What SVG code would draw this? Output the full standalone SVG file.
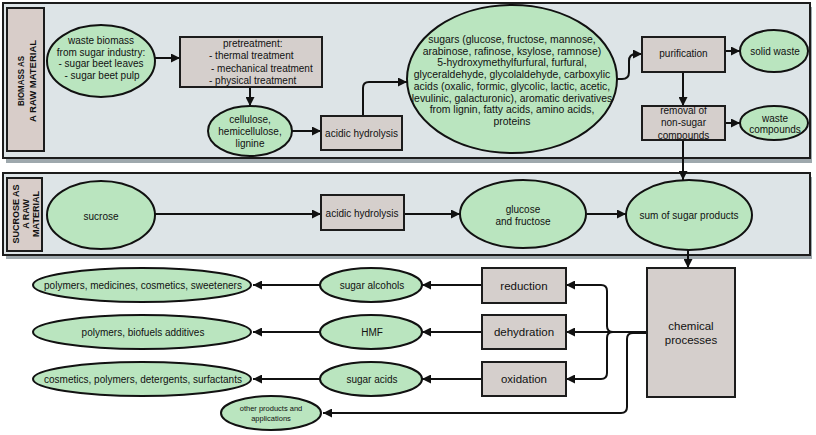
<svg xmlns="http://www.w3.org/2000/svg" width="816" height="435" viewBox="0 0 816 435">
<defs>
<marker id="ah" markerUnits="userSpaceOnUse" markerWidth="9" markerHeight="9" refX="9" refY="4.5" orient="auto">
<path d="M0,0 L9,4.5 L0,9 z" fill="#111"/>
</marker>
<style>
.panel{fill:#dde4e7;stroke:#1c1c1c;stroke-width:2}
.shadow{fill:#9ea8ad}
.lbl{fill:#d8cdc9;stroke:#1c1c1c;stroke-width:2}
.box{fill:#d5cfcc;stroke:#1c1c1c;stroke-width:2}
.ell{fill:#bae5bf;stroke:#111;stroke-width:2}
text{font-family:"Liberation Sans",Arial,sans-serif;fill:#111;text-anchor:middle}
.t10{font-size:10px}
.t105{font-size:10.4px}
.t115{font-size:11.5px}
.t75{font-size:7.5px}
.lt{font-size:9px;font-weight:bold}
.c{fill:none;stroke:#111;stroke-width:2}
.a{marker-end:url(#ah)}
</style>
</defs>
<rect x="0" y="0" width="816" height="435" fill="#ffffff"/>

<g id="panel-biomass">
<rect class="shadow" x="6" y="7" width="806" height="156"/>
<rect class="panel" x="3" y="3" width="807" height="155"/>
<rect class="lbl" x="7" y="8" width="37" height="143"/>
<text class="lt" transform="translate(24,81) rotate(-90)" textLength="50" lengthAdjust="spacingAndGlyphs">BIOMASS AS</text>
<text class="lt" transform="translate(36,81) rotate(-90)" textLength="82" lengthAdjust="spacingAndGlyphs">A RAW MATERIAL</text>
</g>

<g id="panel-sucrose">
<rect class="shadow" x="6" y="177" width="806" height="82"/>
<rect class="panel" x="3" y="173" width="807" height="82"/>
<rect class="lbl" x="7" y="178" width="35" height="73"/>
<text class="lt" transform="translate(19,214) rotate(-90)">SUCROSE AS</text>
<text class="lt" transform="translate(29,214) rotate(-90)">A RAW</text>
<text class="lt" transform="translate(39,214) rotate(-90)">MATERIAL</text>
</g>

<g id="connectors">
<path class="c a" d="M155,58 H180"/>
<path class="c a" d="M250,87 V106"/>
<path class="c a" d="M292,131 H321"/>
<path class="c a" d="M363,116 V88 Q363,82 369,82 H407"/>
<path class="c a" d="M617,79 H622 Q629,79 629,72 V61 Q629,54 636,54 H642"/>
<path class="c a" d="M725,51 H740"/>
<path class="c a" d="M683,72 V106"/>
<path class="c a" d="M725,123 H740"/>
<path class="c a" d="M683,140 V180"/>
<path class="c a" d="M155,214 H321"/>
<path class="c a" d="M404,214 H460"/>
<path class="c a" d="M587,214 H626"/>
<path class="c a" d="M688,250 V268"/>
<path class="c a" d="M647,332 H566"/>
<path class="c a" d="M613,332 Q607,332 607,326 V291 Q607,285 601,285 H566"/>
<path class="c a" d="M613,332 Q607,332 607,338 V373 Q607,379 601,379 H566"/>
<path class="c a" d="M647,333 H633 Q627,333 627,339 V407 Q627,413 621,413 H323"/>
<path class="c a" d="M482,285 H422"/>
<path class="c a" d="M482,332 H422"/>
<path class="c a" d="M482,379 H422"/>
<path class="c a" d="M320,285 H253"/>
<path class="c a" d="M320,332 H253"/>
<path class="c a" d="M320,379 H253"/>
</g>

<g id="waste-biomass">
<ellipse class="ell" cx="101" cy="61" rx="54" ry="36"/>
<text class="t10" x="101" y="43.5">waste biomass</text>
<text class="t10" x="101" y="55.5">from sugar industry:</text>
<text class="t10" x="101" y="67">- sugar beet leaves</text>
<text class="t10" x="102" y="79">- sugar beet pulp</text>
</g>

<g id="pretreatment">
<rect class="box" x="180" y="37" width="142" height="50"/>
<text class="t10" x="223" y="46.5" style="text-anchor:start">pretreatment:</text>
<text class="t10" x="209" y="59" style="text-anchor:start">- thermal treatment</text>
<text class="t10" x="211" y="71.5" style="text-anchor:start">- mechanical treatment</text>
<text class="t10" x="209" y="83.5" style="text-anchor:start">- physical treatment</text>
</g>

<g id="cellulose">
<ellipse class="ell" cx="250" cy="131" rx="42" ry="25"/>
<text class="t10" x="250" y="122.5">cellulose,</text>
<text class="t10" x="250" y="134.5">hemicellulose,</text>
<text class="t10" x="250" y="146.5">lignine</text>
</g>

<g id="acidic-hydrolysis-1">
<rect class="box" x="321" y="116" width="81" height="34"/>
<text class="t10" x="361.5" y="136.5">acidic hydrolysis</text>
</g>

<g id="sugars">
<ellipse class="ell" cx="512" cy="79" rx="105" ry="74"/>
<text class="t105" x="512" y="43">sugars (glucose, fructose, mannose,</text>
<text class="t105" x="512" y="54.7">arabinose, rafinose, ksylose, ramnose)</text>
<text class="t105" x="512" y="66.4">5-hydroxymethylfurfural, furfural,</text>
<text class="t105" x="512" y="78.1">glyceraldehyde, glycolaldehyde, carboxylic</text>
<text class="t105" x="512" y="89.8">acids (oxalic, formic, glycolic, lactic, acetic,</text>
<text class="t105" x="512" y="101.5">levulinic, galacturonic), aromatic derivatives</text>
<text class="t105" x="512" y="113.2">from lignin,  fatty acids, amino acids,</text>
<text class="t105" x="512" y="124.9">proteins</text>
</g>

<g id="purification">
<rect class="box" x="642" y="37" width="83" height="35"/>
<text class="t10" x="683.5" y="56.5">purification</text>
</g>

<g id="solid-waste">
<ellipse class="ell" cx="774" cy="51" rx="34" ry="21"/>
<text class="t10" x="775" y="54.5">solid waste</text>
</g>

<g id="removal">
<rect class="box" x="642" y="106" width="83" height="34"/>
<text class="t10" x="683.5" y="113.5">removal of</text>
<text class="t10" x="683.5" y="126">non-sugar</text>
<text class="t10" x="683.5" y="138.5">compounds</text>
</g>

<g id="waste-compounds">
<ellipse class="ell" cx="774" cy="123" rx="34" ry="17"/>
<text class="t10" x="775" y="121.5">waste</text>
<text class="t10" x="775" y="133">compounds</text>
</g>

<g id="sucrose">
<ellipse class="ell" cx="101" cy="215" rx="54" ry="34"/>
<text class="t10" x="101" y="220">sucrose</text>
</g>

<g id="acidic-hydrolysis-2">
<rect class="box" x="321" y="195" width="83" height="35"/>
<text class="t10" x="362" y="216.5">acidic hydrolysis</text>
</g>

<g id="glucose-fructose">
<ellipse class="ell" cx="523" cy="214" rx="63" ry="34"/>
<text class="t10" x="523" y="212.5">glucose</text>
<text class="t10" x="523" y="224.5">and fructose</text>
</g>

<g id="sum-sugar">
<ellipse class="ell" cx="689" cy="215" rx="63" ry="35"/>
<text class="t10" x="689" y="219">sum of sugar products</text>
</g>

<g id="chemical-processes">
<rect class="box" x="647" y="268" width="88" height="129"/>
<text class="t115" x="691" y="330">chemical</text>
<text class="t115" x="691" y="344">processes</text>
</g>

<g id="reduction">
<rect class="box" x="482" y="268" width="84" height="35"/>
<text class="t115" x="524" y="289.5">reduction</text>
</g>

<g id="dehydration">
<rect class="box" x="482" y="315" width="84" height="34"/>
<text class="t115" x="524" y="336">dehydration</text>
</g>

<g id="oxidation">
<rect class="box" x="482" y="362" width="84" height="34"/>
<text class="t115" x="524" y="383">oxidation</text>
</g>

<g id="sugar-alcohols">
<ellipse class="ell" cx="371" cy="285" rx="51" ry="17"/>
<text class="t10" x="372" y="288.5">sugar alcohols</text>
</g>

<g id="hmf">
<ellipse class="ell" cx="371" cy="332" rx="51" ry="17"/>
<text class="t10" x="372" y="335.5">HMF</text>
</g>

<g id="sugar-acids">
<ellipse class="ell" cx="371" cy="379" rx="51" ry="17"/>
<text class="t10" x="372" y="382.5">sugar acids</text>
</g>

<g id="app-alcohols">
<ellipse class="ell" cx="142" cy="285" rx="109" ry="17"/>
<text class="t10" x="143" y="288.5">polymers, medicines, cosmetics, sweeteners</text>
</g>

<g id="app-hmf">
<ellipse class="ell" cx="142" cy="332" rx="109" ry="17"/>
<text class="t10" x="143" y="335.5">polymers, biofuels additives</text>
</g>

<g id="app-acids">
<ellipse class="ell" cx="142" cy="379" rx="109" ry="17"/>
<text class="t10" x="143" y="382.5">cosmetics, polymers, detergents, surfactants</text>
</g>

<g id="other-products">
<ellipse class="ell" cx="271" cy="413" rx="50" ry="17"/>
<text class="t75" x="271" y="411">other products and</text>
<text class="t75" x="271" y="420.5">applications</text>
</g>
</svg>
